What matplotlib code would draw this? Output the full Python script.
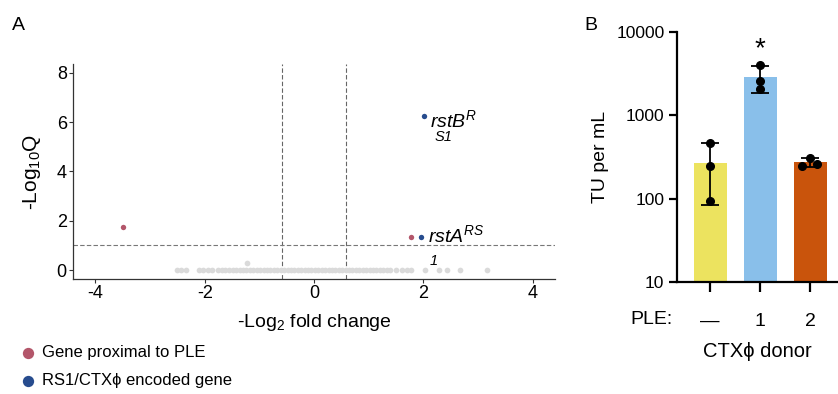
import matplotlib.pyplot as plt
import numpy as np

plt.rcParams['font.family'] = ['Liberation Sans', 'DejaVu Sans']
plt.rcParams['mathtext.fontset'] = 'custom'
plt.rcParams['mathtext.rm'] = 'Liberation Sans'
plt.rcParams['mathtext.it'] = 'Liberation Sans:italic'
plt.rcParams['mathtext.default'] = 'regular'
plt.rcParams['axes.unicode_minus'] = False

# Panel A: volcano plot (-log2 fold change vs -log10 Q)
gray_fc = [-2.51, -2.44, -2.35, -2.10, -2.03, -1.94, -1.87, -1.76, -1.68, -1.62,
           -1.55, -1.49, -1.42, -1.36, -1.30, -1.24, -1.17, -1.11, -1.05, -0.98,
           -0.92, -0.86, -0.80, -0.73, -0.67, -0.61, -0.55, -0.48, -0.42, -0.36,
           -0.30, -0.23, -0.17, -0.11, -0.05, 0.02, 0.08, 0.14, 0.20, 0.27,
           0.33, 0.39, 0.45, 0.52, 0.58, 0.64, 0.70, 0.77, 0.83, 0.89,
           0.95, 1.02, 1.08, 1.14, 1.20, 1.27, 1.33, 1.39, 1.50, 1.61,
           1.70, 1.78, 2.03, 2.28, 2.43, 2.67, 3.16, -1.23]
gray_q = [0.0, 0.0, 0.0, 0.0, 0.0, 0.0, 0.0, 0.0, 0.0, 0.0,
          0.0, 0.0, 0.0, 0.0, 0.0, 0.0, 0.0, 0.0, 0.0, 0.0,
          0.0, 0.0, 0.0, 0.0, 0.0, 0.0, 0.0, 0.0, 0.0, 0.0,
          0.0, 0.0, 0.0, 0.0, 0.0, 0.0, 0.0, 0.0, 0.0, 0.0,
          0.0, 0.0, 0.0, 0.0, 0.0, 0.0, 0.0, 0.0, 0.0, 0.0,
          0.0, 0.0, 0.0, 0.0, 0.0, 0.0, 0.0, 0.0, 0.0, 0.0,
          0.0, 0.0, 0.0, 0.0, 0.0, 0.0, 0.0, 0.3]
ple_fc = [-3.50, 1.78]
ple_q = [1.76, 1.34]
rs1_fc = [2.01, 1.95]
rs1_q = [6.25, 1.34]
fc_cut = 0.585
q_cut = 1.0

# Panel B: transducing units per mL
donors = ['\u2014', '1', '2']
tu_reps = [[470, 249, 95],
           [4000, 2550, 2050],
           [310, 248, 258]]
bar_colors = ['#ece35f', '#89bfea', '#c9540c']
jitter = [[0, 0, 0], [0, 0, 0], [0, -0.17, 0.14]]

fig = plt.figure(figsize=(8.38, 3.94), dpi=100)

# ---- A ----
ax = fig.add_axes([73 / 838, 1 - 279 / 394, 482 / 838, 215 / 394])
ax.scatter(gray_fc, gray_q, s=17, color='#dadada', linewidths=0, zorder=2)
h_ple = ax.scatter(ple_fc, ple_q, s=15, color='#b3566a', linewidths=0, zorder=3)
h_rs1 = ax.scatter(rs1_fc, rs1_q, s=15, color='#274c8e', linewidths=0, zorder=3)
for v in [-fc_cut, fc_cut]:
    ax.axvline(v, color='#666666', lw=0.8, ls=(0, (4, 2)), zorder=1)
ax.axhline(q_cut, color='#777777', lw=0.8, ls=(0, (4, 2)), zorder=1)

ax.text(rs1_fc[0] + 0.11, rs1_q[0] - 0.45, r'$\it{rstB}^{\it{R}}$', fontsize=14)
ax.text(rs1_fc[0] + 0.19, rs1_q[0] - 1.0, 'S1', fontsize=10.5, style='italic')
ax.text(rs1_fc[1] + 0.14, rs1_q[1] - 0.2, r'$\it{rstA}^{\it{RS}}$', fontsize=14)
ax.text(rs1_fc[1] + 0.17, rs1_q[1] - 1.15, '1', fontsize=10.5, style='italic')

ax.set_xlim(-4.41, 4.41)
ax.set_ylim(-0.36, 8.35)
ax.set_xticks([-4, -2, 0, 2, 4])
ax.set_yticks([0, 2, 4, 6, 8])
for s in ['top', 'right']:
    ax.spines[s].set_visible(False)
for s in ['left', 'bottom']:
    ax.spines[s].set_color('#333333')
    ax.spines[s].set_linewidth(0.9)
ax.tick_params(labelsize=13, length=3, width=0.8, pad=1.5, color='#333333')
ax.set_ylabel('-Log$_{10}$Q', fontsize=15, labelpad=10)
ax.set_xlabel('-Log$_2$ fold change', fontsize=14, labelpad=7)

fig.legend([h_ple, h_rs1], ['Gene proximal to PLE', 'RS1/CTX\u03d5 encoded gene'],
           loc='upper left', bbox_to_anchor=(20 / 838, 1 - 345 / 394),
           frameon=False, fontsize=12, markerscale=2.1, handlelength=1.0,
           handletextpad=0.3, labelspacing=0.8, borderpad=0, borderaxespad=0)

fig.text(12 / 838, 1 - 30 / 394, 'A', fontsize=14)

# ---- B ----
bx = fig.add_axes([677 / 838, 1 - 282 / 394, 161 / 838, 250 / 394])
x = np.arange(len(donors))
means = [np.mean(r) for r in tu_reps]
sds = [np.std(r, ddof=1) for r in tu_reps]
bx.bar(x, means, width=0.66, color=bar_colors, zorder=1)
bx.errorbar(x, means, yerr=sds, fmt='none', ecolor='black', elinewidth=1.3,
            capsize=6.5, capthick=1.3, zorder=2)
for i, reps in enumerate(tu_reps):
    bx.plot(np.array(jitter[i]) + x[i], reps, 'o', color='black', ms=5.5, zorder=3)
bx.text(x[1], 6300, '*', fontsize=20, ha='center', va='center')

bx.set_yscale('log')
bx.set_ylim(10, 10000)
bx.set_xlim(-0.66, 2.56)
bx.set_yticks([10, 100, 1000, 10000])
bx.set_yticklabels(['10', '100', '1000', '10000'])
bx.minorticks_off()
bx.set_xticks(x)
bx.set_xticklabels(donors)
for s in ['top', 'right']:
    bx.spines[s].set_visible(False)
for s in ['left', 'bottom']:
    bx.spines[s].set_linewidth(1.6)
bx.tick_params(axis='y', labelsize=12.5, length=6, width=1.6, pad=3)
bx.tick_params(axis='x', labelsize=14, length=7, width=1.6, pad=15)
bx.set_ylabel('TU per mL', fontsize=14, labelpad=5)
bx.set_xlabel('CTX\u03d5 donor', fontsize=14.5, labelpad=9)
fig.text(651 / 838, 1 - 320 / 394, 'PLE:', fontsize=14, ha='center', va='center')

fig.text(584 / 838, 1 - 30 / 394, 'B', fontsize=14)

fig.savefig('out.png', dpi=100)
